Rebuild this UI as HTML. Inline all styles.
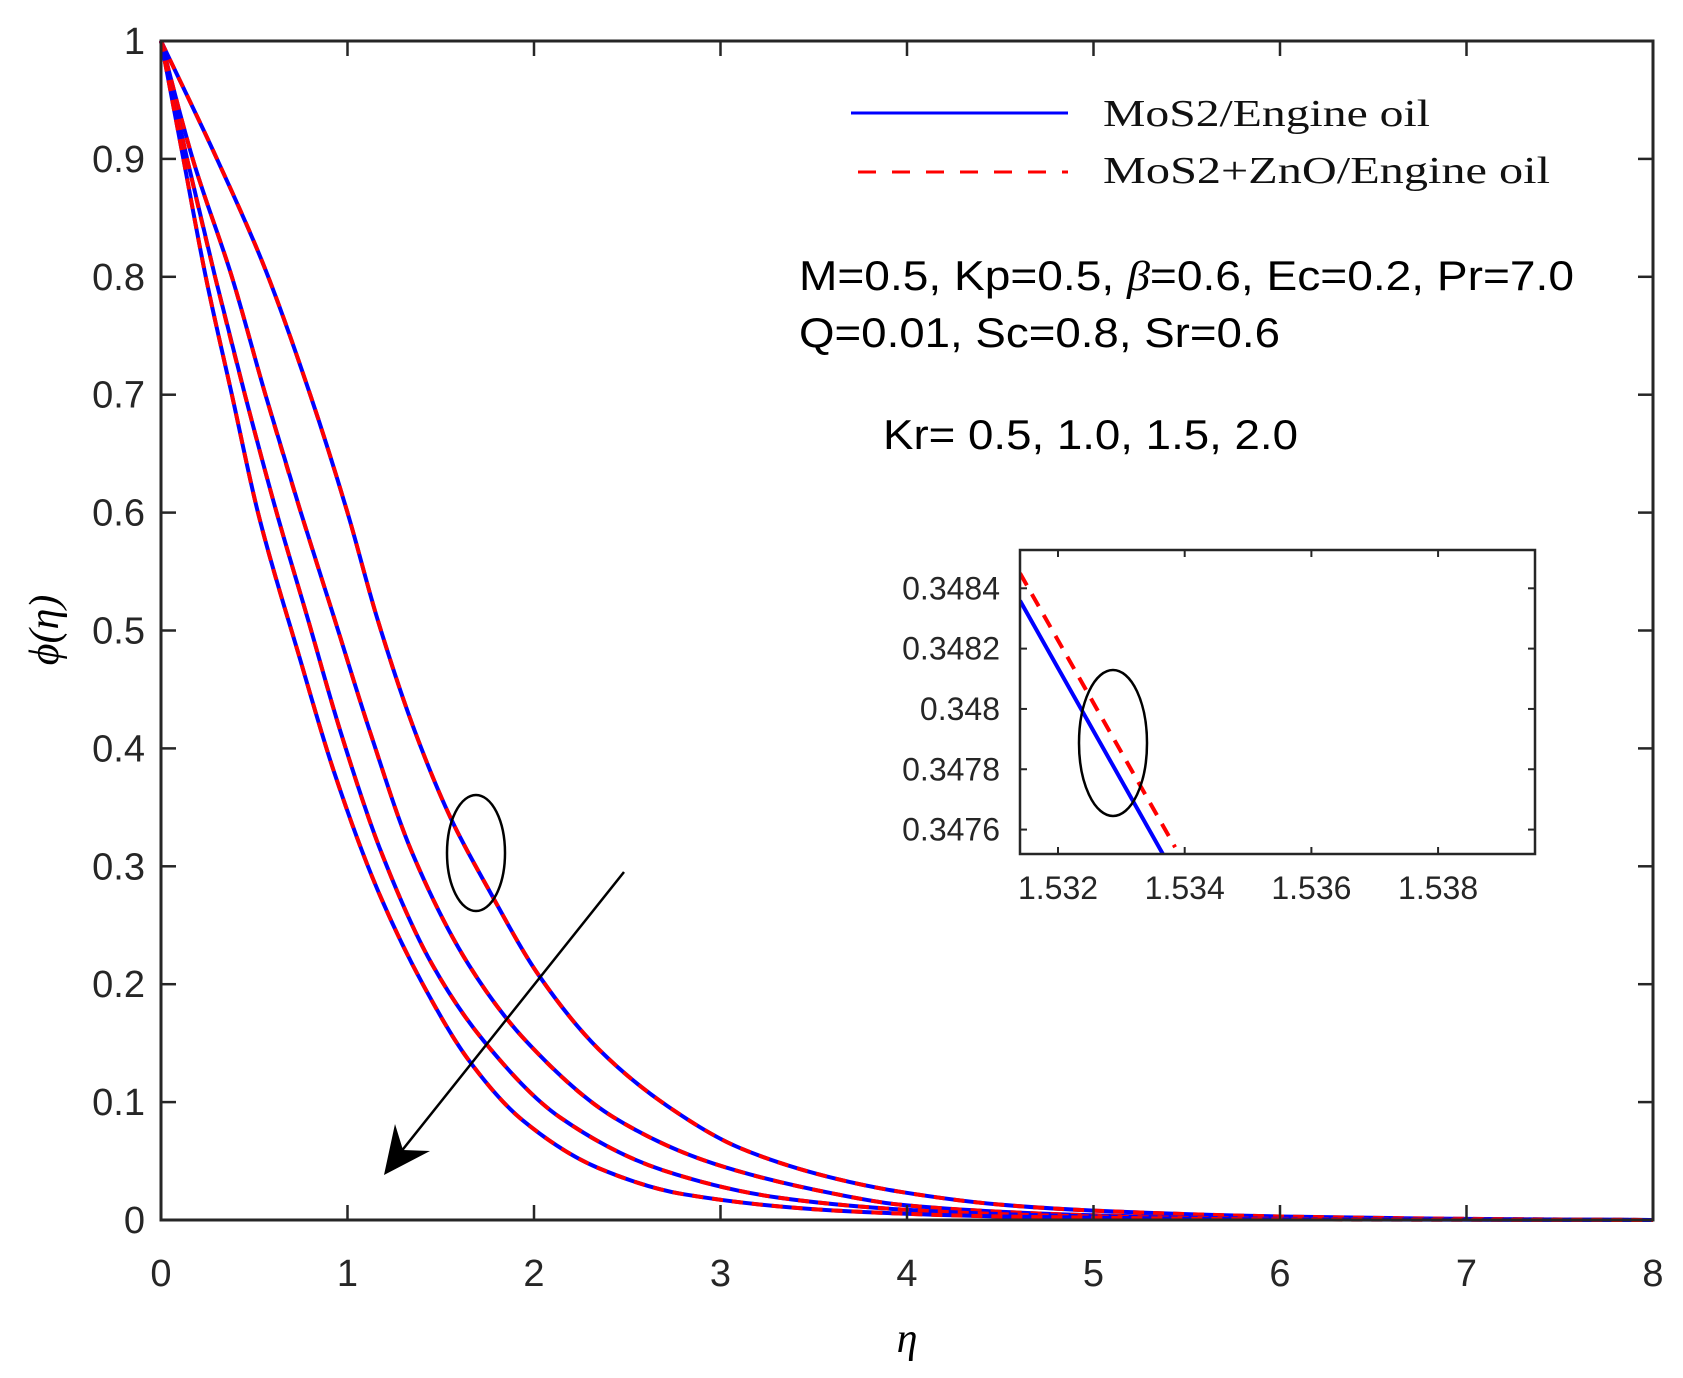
<!DOCTYPE html>
<html><head><meta charset="utf-8"><style>
html,body{margin:0;padding:0;background:#fff;}
svg{display:block;}
</style></head><body>
<svg id="chart" width="1683" height="1378" viewBox="0 0 1683 1378" xmlns="http://www.w3.org/2000/svg">
<rect x="0" y="0" width="1683" height="1378" fill="#fff"/>
<g id="curves"></g>
<g id="axes"></g>
<g id="inset"></g>
<g>
 <line x1="851" y1="113" x2="1068" y2="113" stroke="#0000ff" stroke-width="3"/>
 <line x1="858" y1="172" x2="1068" y2="172" stroke="#ff0000" stroke-width="3" stroke-dasharray="18,16"/>
 <text x="1103" y="126" font-family="Liberation Serif, serif" font-size="38" textLength="327" lengthAdjust="spacingAndGlyphs" fill="#111">MoS2/Engine oil</text>
 <text x="1103" y="183" font-family="Liberation Serif, serif" font-size="38" textLength="447" lengthAdjust="spacingAndGlyphs" fill="#111">MoS2+ZnO/Engine oil</text>
</g>
<g font-family="Liberation Sans, sans-serif" font-size="42" fill="#000">
 <text x="799" y="290" textLength="775" lengthAdjust="spacingAndGlyphs">M=0.5, Kp=0.5, <tspan font-family="Liberation Serif, serif" font-style="italic">β</tspan>=0.6, Ec=0.2, Pr=7.0</text>
 <text x="799" y="347" textLength="481" lengthAdjust="spacingAndGlyphs">Q=0.01, Sc=0.8, Sr=0.6</text>
 <text x="883" y="449" textLength="415" lengthAdjust="spacingAndGlyphs">Kr= 0.5, 1.0, 1.5, 2.0</text>
</g>
<ellipse cx="476" cy="853" rx="29" ry="58" fill="none" stroke="#000" stroke-width="2.5"/>
<g>
 <line x1="624" y1="872" x2="396" y2="1158" stroke="#000" stroke-width="2.5"/>
 <polygon points="384,1175 395,1124 403,1150 430,1151" fill="#000"/>
</g>
<text x="907" y="1352" text-anchor="middle" font-family="Liberation Serif, serif" font-style="italic" font-size="42">η</text>
<text transform="translate(58,630) rotate(-90)" text-anchor="middle" font-family="Liberation Serif, serif" font-style="italic" font-size="42">ϕ(η)</text>
</svg>
<script>
const etaC1 = [0,0.30,0.55,0.80,1.0,1.16,1.36,1.556,1.751,2.028,2.346,2.715,3.105,3.618,3.96,4.5,5,6,7,8];
const phiC1 = [1,0.9,0.81,0.7,0.6,0.51,0.415,0.340,0.282,0.207,0.145,0.0967,0.061,0.035,0.024,0.013,0.008,0.003,0.001,0];
const etaC2 = [0,0.17,0.38,0.56,0.75,0.93,1.125,1.34,1.648,1.956,2.428,2.96,3.618,3.96,4.5,5,6,8];
const phiC2 = [1,0.9,0.8,0.7,0.6,0.51,0.412,0.314,0.217,0.152,0.087,0.048,0.022,0.013,0.007,0.004,0.001,0];
const etaC3 = [0,0.14,0.29,0.45,0.62,0.787,0.961,1.176,1.453,1.730,2.14,2.695,3.31,3.96,4.5,5,6,8];
const phiC3 = [1,0.9,0.8,0.7,0.6,0.51,0.415,0.314,0.217,0.152,0.087,0.042,0.019,0.009,0.005,0.003,0.001,0];
const etaC4 = [0,0.12,0.24,0.38,0.52,0.745,0.93,1.156,1.402,1.648,1.936,2.346,2.797,3.618,4.5,5,6,8];
const phiC4 = [1,0.9,0.8,0.7,0.6,0.476,0.379,0.282,0.2005,0.136,0.085,0.044,0.022,0.008,0.003,0.002,0.0005,0];
const xTicks = [0,1,2,3,4,5,6,7,8];
const yTicks = [0,0.1,0.2,0.3,0.4,0.5,0.6,0.7,0.8,0.9,1];
const yTickLabels = ['0','0.1','0.2','0.3','0.4','0.5','0.6','0.7','0.8','0.9','1'];
const insetEtaBlue = [1.5314,1.533655];
const insetPhiBlue = [0.348359,0.347519];
const insetEtaRed = [1.5314,1.533849];
const insetPhiRed = [0.348450,0.3475415];
const insetXTicks = [1.532,1.534,1.536,1.538];
const insetYTicks = [0.3476,0.3478,0.348,0.3482,0.3484];
const insetYTickLabels = ['0.3476','0.3478','0.348','0.3482','0.3484'];

const NS='http://www.w3.org/2000/svg';
const L=161,R=1653,T=41,B=1220;
const sx=v=>L+(v-0)/8*(R-L);
const sy=v=>B-(v-0)/1*(B-T);
function mk(tag,attrs,parent){const e=document.createElementNS(NS,tag);for(const k in attrs)e.setAttribute(k,attrs[k]);parent.appendChild(e);return e;}
function monoPath(xs,ys){
  const n=xs.length,d=[],m=new Array(n);
  for(let i=0;i<n-1;i++)d.push((ys[i+1]-ys[i])/(xs[i+1]-xs[i]));
  m[0]=d[0];m[n-1]=d[n-2];
  for(let i=1;i<n-1;i++){
    if(d[i-1]*d[i]<=0)m[i]=0;
    else{const w1=2*(xs[i+1]-xs[i])+(xs[i]-xs[i-1]),w2=(xs[i+1]-xs[i])+2*(xs[i]-xs[i-1]);m[i]=(w1+w2)/(w1/d[i-1]+w2/d[i]);}
  }
  let p='M'+sx(xs[0]).toFixed(2)+','+sy(ys[0]).toFixed(2);
  for(let i=0;i<n-1;i++){
    const h=xs[i+1]-xs[i];
    const c1x=xs[i]+h/3,c1y=ys[i]+m[i]*h/3,c2x=xs[i+1]-h/3,c2y=ys[i+1]-m[i+1]*h/3;
    p+=' C'+sx(c1x).toFixed(2)+','+sy(c1y).toFixed(2)+' '+sx(c2x).toFixed(2)+','+sy(c2y).toFixed(2)+' '+sx(xs[i+1]).toFixed(2)+','+sy(ys[i+1]).toFixed(2);
  }
  return p;
}
const curves=document.getElementById('curves');
const series=[[etaC1,phiC1],[etaC2,phiC2],[etaC3,phiC3],[etaC4,phiC4]];
series.forEach((s,i)=>{
  const d=monoPath(s[0],s[1]);
  const b=mk('path',{d:d,fill:'none',stroke:'#0000ff','stroke-width':4,'stroke-linejoin':'round'},curves);
  
  
  const r=mk('path',{d:d,fill:'none',stroke:'#ff0000','stroke-width':4,'stroke-dasharray':'11,9'},curves);
  
  
});
const axes=document.getElementById('axes');
const frame=mk('rect',{x:L,y:T,width:R-L,height:B-T,fill:'none',stroke:'#262626','stroke-width':3},axes);


xTicks.forEach(v=>{
  const x=sx(v);
  mk('line',{x1:x,y1:B,x2:x,y2:B-15,stroke:'#262626','stroke-width':2.5},axes);
  mk('line',{x1:x,y1:T,x2:x,y2:T+15,stroke:'#262626','stroke-width':2.5},axes);
  const t=mk('text',{x:x,y:1286,'text-anchor':'middle','font-family':'Liberation Sans, sans-serif','font-size':38,fill:'#262626'},axes);
  t.textContent=String(v);
  
  
});
yTicks.forEach((v,i)=>{
  const y=sy(v);
  mk('line',{x1:L,y1:y,x2:L+15,y2:y,stroke:'#262626','stroke-width':2.5},axes);
  mk('line',{x1:R,y1:y,x2:R-15,y2:y,stroke:'#262626','stroke-width':2.5},axes);
  const t=mk('text',{x:145,y:y+13,'text-anchor':'end','font-family':'Liberation Sans, sans-serif','font-size':38,fill:'#262626'},axes);
  t.textContent=yTickLabels[i];
  
  
});
const IL=1020,IR=1535,IT=550,IB=854;
const ixmin=1.53140,ixmax=1.53953,iymin=0.347519,iymax=0.348527;
const ix=v=>IL+(v-ixmin)/(ixmax-ixmin)*(IR-IL);
const iy=v=>IB-(v-iymin)/(iymax-iymin)*(IB-IT);
const inset=document.getElementById('inset');
mk('rect',{x:IL,y:IT,width:IR-IL,height:IB-IT,fill:'#fff',stroke:'none'},inset);
const clip=mk('clipPath',{id:'ic'},inset);
mk('rect',{x:IL,y:IT,width:IR-IL,height:IB-IT},clip);
const ib=mk('polyline',{points:insetEtaBlue.map((v,i)=>ix(v)+','+iy(insetPhiBlue[i])).join(' '),fill:'none',stroke:'#0000ff','stroke-width':4,'clip-path':'url(#ic)'},inset);


const ir=mk('polyline',{points:insetEtaRed.map((v,i)=>ix(v)+','+iy(insetPhiRed[i])).join(' '),fill:'none',stroke:'#ff0000','stroke-width':4,'stroke-dasharray':'14,10','clip-path':'url(#ic)'},inset);


const ie=mk('ellipse',{cx:1113,cy:743,rx:34,ry:73,fill:'none',stroke:'#000','stroke-width':2.5},inset);


const ifr=mk('rect',{x:IL,y:IT,width:IR-IL,height:IB-IT,fill:'none',stroke:'#262626','stroke-width':2.5},inset);


insetXTicks.forEach(v=>{
  const x=ix(v);
  mk('line',{x1:x,y1:IB,x2:x,y2:IB-7,stroke:'#262626','stroke-width':2},inset);
  mk('line',{x1:x,y1:IT,x2:x,y2:IT+7,stroke:'#262626','stroke-width':2},inset);
  const t=mk('text',{x:x,y:899,'text-anchor':'middle','font-family':'Liberation Sans, sans-serif','font-size':32,fill:'#262626'},inset);
  t.textContent=v.toFixed(3);
  
  
});
insetYTicks.forEach((v,i)=>{
  const y=iy(v);
  mk('line',{x1:IL,y1:y,x2:IL+7,y2:y,stroke:'#262626','stroke-width':2},inset);
  mk('line',{x1:IR,y1:y,x2:IR-7,y2:y,stroke:'#262626','stroke-width':2},inset);
  const t=mk('text',{x:1000,y:y+11,'text-anchor':'end','font-family':'Liberation Sans, sans-serif','font-size':32,fill:'#262626'},inset);
  t.textContent=insetYTickLabels[i];
  
  
});
</script>
</body></html>
